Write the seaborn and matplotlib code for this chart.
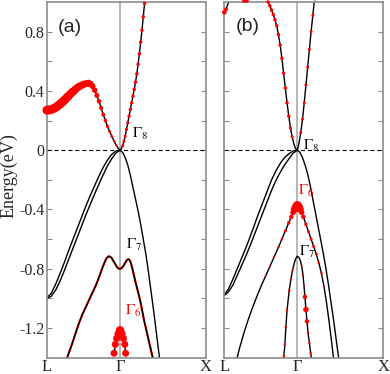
import numpy as np
import matplotlib
matplotlib.use("Agg")
import matplotlib.pyplot as plt
import seaborn as sns

# k-path: L = -0.85, Gamma = 0, X = 1.0 ; energies in eV
kpath_pos = [-0.85, 0.0, 1.0]
kpath_labels = ["L", "Γ", "X"]
y_ticks = [-1.2, -0.8, -0.4, 0.0, 0.4, 0.8]
y_labels = ["-1.2", "-0.8", "-0.4", "0", "0.4", "0.8"]
y_minor = [-1.0, -0.6, -0.2, 0.2, 0.6]

# ---------------- panel (a) ----------------
a_cb_k = [-0.85, -0.82, -0.79, -0.76, -0.73, -0.70, -0.67, -0.64, -0.61,
          -0.58, -0.55, -0.52, -0.49, -0.46, -0.43, -0.40, -0.37,
          -0.345, -0.32, -0.295, -0.27, -0.245, -0.22, -0.195, -0.17, -0.145,
          -0.12, -0.095, -0.07, -0.045, -0.02, 0.0,
          0.015, 0.03, 0.045, 0.06, 0.075, 0.09, 0.105, 0.12, 0.135, 0.15,
          0.165, 0.18, 0.195, 0.21, 0.225, 0.24, 0.255, 0.27, 0.285, 0.30]
a_cb_e = [0.270, 0.272, 0.277, 0.285, 0.296, 0.310, 0.326, 0.342, 0.360,
          0.378, 0.394, 0.410, 0.424, 0.435, 0.443, 0.449, 0.452,
          0.447, 0.432, 0.405, 0.37, 0.33, 0.285, 0.24, 0.20, 0.16,
          0.125, 0.092, 0.062, 0.034, 0.012, 0.0,
          0.01, 0.03, 0.06, 0.095, 0.14, 0.185, 0.23, 0.275, 0.32, 0.365,
          0.41, 0.46, 0.515, 0.58, 0.65, 0.73, 0.81, 0.90, 0.99, 1.08]
a_cb_w = [9, 9, 9, 9, 9, 9, 9, 9, 9,
          8.5, 8.5, 8, 8, 7.5, 7.5, 7, 7,
          6.5, 6, 5.5, 5, 4.5, 4.2, 4, 3.6, 3.3, 3, 2.8, 2.5, 2.2, 0, 0,
          0, 3, 3, 3, 3.2, 3.2, 3.4, 3.4, 3.5, 3.5,
          3.5, 3.5, 3.5, 3.5, 3.5, 3.5, 3.5, 3.5, 3.5, 3.5]

a_hh1_k = [-0.85, -0.80, -0.75, -0.70, -0.65, -0.60, -0.55, -0.50, -0.45, -0.40,
           -0.35, -0.30, -0.25, -0.20, -0.15, -0.10, -0.05, 0.0,
           0.03, 0.06, 0.09, 0.12, 0.15, 0.18, 0.21, 0.24, 0.27, 0.30,
           0.33, 0.36, 0.39, 0.42, 0.45, 0.47]
a_hh1_e = [-1.0, -0.985, -0.945, -0.885, -0.815, -0.74, -0.665, -0.59, -0.515, -0.44,
           -0.37, -0.30, -0.235, -0.17, -0.11, -0.06, -0.02, 0.0,
           -0.015, -0.05, -0.10, -0.17, -0.25, -0.33, -0.41, -0.50, -0.60, -0.70,
           -0.82, -0.95, -1.08, -1.22, -1.36, -1.45]
a_hh2_k = [-0.85, -0.80, -0.75, -0.70, -0.65, -0.60, -0.55, -0.50, -0.45, -0.40,
           -0.35, -0.30, -0.25, -0.20, -0.15, -0.10, -0.05, 0.0]
a_hh2_e = [-0.995, -0.965, -0.905, -0.835, -0.76, -0.68, -0.605, -0.53, -0.455, -0.38,
           -0.31, -0.245, -0.18, -0.12, -0.07, -0.03, -0.006, 0.0]

a_g7_k = [-0.64, -0.60, -0.56, -0.52, -0.48, -0.44, -0.40, -0.36, -0.32, -0.28,
          -0.24, -0.20, -0.16, -0.13, -0.10, -0.07, -0.04, -0.02, 0.0,
          0.02, 0.04, 0.06, 0.08, 0.10, 0.12, 0.14, 0.16, 0.18, 0.20,
          0.22, 0.24, 0.26, 0.28, 0.30, 0.32, 0.34, 0.36, 0.38, 0.40]
a_g7_e = [-1.44, -1.375, -1.31, -1.24, -1.17, -1.11, -1.06, -1.01, -0.96, -0.91,
          -0.85, -0.785, -0.73, -0.715, -0.725, -0.755, -0.785, -0.798, -0.80,
          -0.795, -0.78, -0.76, -0.74, -0.735, -0.75, -0.79, -0.84, -0.89, -0.935,
          -0.98, -1.03, -1.09, -1.15, -1.20, -1.25, -1.30, -1.35, -1.40, -1.45]

a_g6_k = [-0.07, -0.055, -0.04, -0.025, -0.01, 0.0, 0.01, 0.025, 0.04, 0.055, 0.065]
a_g6_e = [-1.37, -1.31, -1.27, -1.24, -1.215, -1.21, -1.215, -1.24, -1.27, -1.31, -1.37]
a_g6_w = [7, 7, 7, 7, 7, 7, 7, 7, 7, 7, 7]

# ---------------- panel (b) ----------------
b_cb_k = [-0.85, -0.83, -0.80, -0.77, -0.74, -0.70, -0.66, -0.62, -0.59, -0.56,
          -0.52, -0.48, -0.44, -0.40, -0.37,
          -0.34, -0.32, -0.30, -0.28, -0.26, -0.24, -0.22, -0.20, -0.18, -0.16,
          -0.14, -0.12, -0.10, -0.08, -0.06, -0.04, -0.02, 0.0,
          0.02, 0.04, 0.06, 0.08, 0.10, 0.12, 0.14, 0.16, 0.18, 0.20, 0.22]
b_cb_e = [0.93, 0.95, 1.0, 1.03, 1.05, 1.05, 1.03, 1.008, 1.008, 1.02,
          1.05, 1.07, 1.08, 1.06, 1.03,
          1.0, 0.975, 0.945, 0.915, 0.88, 0.84, 0.78, 0.71, 0.62, 0.52,
          0.42, 0.32, 0.23, 0.15, 0.09, 0.04, 0.01, 0.0,
          0.05, 0.12, 0.21, 0.32, 0.44, 0.56, 0.68, 0.80, 0.91, 1.02, 1.13]
b_cb_w = [4.5, 4, 0, 0, 0, 0, 0, 4, 4, 0,
          0, 0, 0, 0, 0,
          3.5, 3.5, 3.5, 3.5, 3.5, 3.5, 3.5, 3.5, 3.5, 3.5,
          3.5, 3.5, 3.5, 3.2, 3, 0, 0, 0,
          0, 3, 3, 3, 3, 3, 3, 3, 3, 3, 3]

b_hh1_k = [-0.85, -0.80, -0.75, -0.70, -0.65, -0.60, -0.55, -0.50, -0.45, -0.40,
           -0.35, -0.30, -0.25, -0.20, -0.15, -0.10, -0.05, 0.0,
           0.03, 0.06, 0.09, 0.12, 0.15, 0.18, 0.21, 0.24, 0.27, 0.30,
           0.33, 0.36, 0.39, 0.42, 0.45, 0.48, 0.50]
b_hh1_e = [-0.98, -0.955, -0.91, -0.845, -0.78, -0.715, -0.645, -0.57, -0.495, -0.42,
           -0.345, -0.27, -0.205, -0.15, -0.10, -0.06, -0.02, 0.0,
           -0.015, -0.05, -0.10, -0.16, -0.24, -0.33, -0.42, -0.51, -0.60, -0.69,
           -0.79, -0.90, -1.02, -1.14, -1.27, -1.40, -1.49]
b_hh2_k = [-0.85, -0.80, -0.75, -0.70, -0.65, -0.60, -0.55, -0.50, -0.45, -0.40,
           -0.35, -0.30, -0.25, -0.20, -0.15, -0.10, -0.05, 0.0]
b_hh2_e = [-0.975, -0.935, -0.87, -0.80, -0.73, -0.66, -0.585, -0.505, -0.425, -0.35,
           -0.275, -0.20, -0.14, -0.09, -0.05, -0.025, -0.005, 0.0]

b_g6_k = [-0.71, -0.67, -0.62, -0.57, -0.52, -0.47, -0.42, -0.37, -0.32, -0.27,
          -0.22, -0.18, -0.14, -0.10, -0.07, -0.05, -0.035, -0.02, -0.01, 0.0,
          0.01, 0.02, 0.035, 0.05, 0.07, 0.10, 0.13, 0.16, 0.19, 0.22,
          0.25, 0.28, 0.31, 0.34, 0.37, 0.40, 0.43]
b_g6_e = [-1.42, -1.33, -1.23, -1.14, -1.06, -0.985, -0.915, -0.85, -0.785, -0.72,
          -0.655, -0.60, -0.545, -0.49, -0.45, -0.42, -0.40, -0.385, -0.375, -0.37,
          -0.375, -0.385, -0.40, -0.42, -0.45, -0.50, -0.55, -0.60, -0.65, -0.70,
          -0.76, -0.83, -0.92, -1.03, -1.16, -1.30, -1.45]
b_g6_w = [0, 0, 0, 0, 0, 0, 0, 2, 2, 2,
          2.5, 2.5, 3, 3.5, 4.5, 5.5, 7, 8, 8, 8,
          8, 8, 7, 5.5, 4.5, 3.5, 3, 3, 3, 3,
          2.5, 2.5, 2, 0, 0, 0, 0]

b_g7_k = [-0.17, -0.157, -0.145, -0.134, -0.12, -0.095, -0.075, -0.056, -0.035, -0.018, 0.0,
          0.02, 0.035, 0.05, 0.065, 0.077, 0.088, 0.10, 0.112, 0.125, 0.14, 0.155, 0.165, 0.18]
b_g7_e = [-1.49, -1.39, -1.31, -1.195, -1.08, -0.947, -0.87, -0.81, -0.76, -0.73, -0.715,
          -0.725, -0.745, -0.78, -0.84, -0.91, -0.99, -1.075, -1.155, -1.235, -1.30, -1.37, -1.41, -1.48]
b_g7_w = [0, 2.5, 2.5, 2.5, 2.5, 2.5, 2, 2, 0, 0, 0,
          0, 0, 2, 2, 2, 4.5, 5.5, 4.5, 2.5, 2.5, 2.5, 0, 0]

# ---------------- style ----------------
sns.set_style("ticks")
plt.rcParams["font.family"] = ["Liberation Serif", "DejaVu Serif"]
plt.rcParams["mathtext.fontset"] = "stix"
plt.rcParams["lines.scale_dashes"] = False

frame_col = "#8c8c8c"


def draw_band(ax, k, e, w=None, red_under=False):
    if red_under:
        sns.lineplot(x=k, y=e, ax=ax, color="red", lw=1.5, sort=False, estimator=None)
    sns.lineplot(x=k, y=e, ax=ax, color="black", lw=1.0, sort=False, estimator=None)
    if w is not None:
        sizes = (np.asarray(w, dtype=float) * 0.72) ** 2
        sns.scatterplot(x=k, y=e, ax=ax, s=sizes, color="red", edgecolor="none",
                        linewidth=0, legend=False, clip_on=False, zorder=3)


fig = plt.figure(figsize=(3.9, 3.74), dpi=100)
ax1 = fig.add_axes([47 / 390, 16.3 / 374, 159 / 390, 355.7 / 374])
ax2 = fig.add_axes([224.3 / 390, 16.3 / 374, 159 / 390, 355.7 / 374])

for ax in (ax1, ax2):
    ax.axvline(0, color="#a3a3a3", lw=1.1, zorder=0.5)
    ax.axhline(0, color="black", lw=0.8, ls=(0, (3, 2)), zorder=1)

# panel (a)
draw_band(ax1, a_hh1_k, a_hh1_e)
draw_band(ax1, a_hh2_k, a_hh2_e)
draw_band(ax1, a_g7_k, a_g7_e, red_under=True)
draw_band(ax1, a_g6_k, a_g6_e, a_g6_w)
draw_band(ax1, a_cb_k, a_cb_e, a_cb_w)

# panel (b)
draw_band(ax2, b_hh1_k, b_hh1_e)
draw_band(ax2, b_hh2_k, b_hh2_e)
draw_band(ax2, b_g7_k, b_g7_e, b_g7_w)
draw_band(ax2, b_g6_k, b_g6_e, b_g6_w)
draw_band(ax2, b_cb_k, b_cb_e, b_cb_w)

for ax in (ax1, ax2):
    ax.set_xlim(-0.85, 1.0)
    ax.set_ylim(-1.4, 1.0)
    ax.set_xticks(kpath_pos)
    ax.set_xticklabels(kpath_labels, fontsize=12)
    ax.set_yticks(y_ticks)
    ax.set_yticks(y_minor, minor=True)
    ax.tick_params(axis="y", which="both", direction="in", left=True, right=True,
                   length=3.6, width=0.8, color=frame_col, pad=2)
    ax.tick_params(axis="x", length=0, pad=1)
    ax.set_xlabel("")
    ax.set_ylabel("")
    for sp in ax.spines.values():
        sp.set_visible(True)
        sp.set_color(frame_col)
        sp.set_linewidth(1.2)

ax1.set_yticklabels(y_labels, fontsize=11.5)
ax2.set_yticklabels([])

# level labels
ax1.text(0.135, 0.083, r"$\Gamma_8$", fontsize=11, color="black", va="baseline")
ax1.text(0.069, -0.669, r"$\Gamma_7$", fontsize=11, color="black", va="baseline")
ax1.text(0.057, -1.11, r"$\Gamma_6$", fontsize=11, color="red", va="baseline")
ax2.text(0.065, 0.0, r"$\Gamma_8$", fontsize=11, color="black", va="baseline")
ax2.text(0.007, -0.30, r"$\Gamma_6$", fontsize=11, color="red", va="baseline")
ax2.text(0.02, -0.716, r"$\Gamma_7$", fontsize=11, color="black", va="baseline")

ax1.text(0.145, 0.928, "(a)", transform=ax1.transAxes, fontsize=14,
         family="Liberation Sans", ha="center", va="center")
ax2.text(0.149, 0.932, "(b)", transform=ax2.transAxes, fontsize=14,
         family="Liberation Sans", ha="center", va="center")

fig.text(0.022, 0.53, "Energy(eV)", rotation=90, fontsize=13, ha="center", va="center")

fig.savefig("out.png", dpi=100)
